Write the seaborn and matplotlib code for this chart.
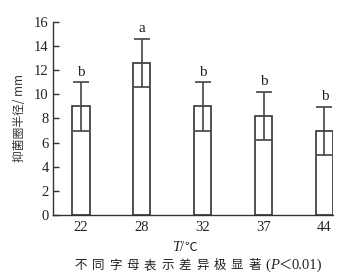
import matplotlib
matplotlib.use("Agg")
import matplotlib.pyplot as plt
import seaborn as sns
import pandas as pd
import numpy as np

temps = ["22", "28", "32", "37", "44"]
means = [9.0, 12.6, 9.0, 8.2, 6.95]
errs = [2.0, 2.0, 2.0, 2.0, 2.0]
letters = ["b", "a", "b", "b", "b"]
yticks = [0, 2, 4, 6, 8, 10, 12, 14, 16]
note_cn = "不同字母表示差异极显著"

sns.set_theme(style="white")
plt.rcParams['font.family'] = ['Liberation Serif', 'Noto Sans CJK SC']

df = pd.DataFrame({"T": temps, "r": means})

W, H = 358, 278
fig = plt.figure(figsize=(3.58, 2.78), dpi=100)
ax = fig.add_axes([0.148, 0.2266, 0.782, 0.6944])
sns.barplot(data=df, x="T", y="r", ax=ax, color="white", edgecolor="#333333",
            linewidth=1.2, width=0.28, errorbar=None)
ax.errorbar(np.arange(len(temps)), means, yerr=errs, fmt="none", ecolor="#444444",
            elinewidth=1.2, capsize=5.5, capthick=1.2)
for i, (m, e, l) in enumerate(zip(means, errs, letters)):
    ax.text(i, m + e + 0.3, l, ha="center", va="bottom", fontsize=11,
            family="Liberation Serif", color="#222222")

ax.set_ylim(0, 16)
ax.set_xlim(-0.46, 4.14)
ax.set_yticks(yticks)
ax.set_yticklabels([str(v) for v in yticks], fontsize=10.5, family="Liberation Serif")
ax.set_xticks(range(len(temps)))
ax.set_xticklabels(temps, fontsize=10.5, family="Liberation Serif")
for s in ["top", "right"]:
    ax.spines[s].set_visible(False)
for s in ["left", "bottom"]:
    ax.spines[s].set_color("#333333")
    ax.spines[s].set_linewidth(1.0)
ax.tick_params(axis="y", direction="in", length=4, width=1.0, color="#333333",
               left=True, pad=3, labelcolor="#222222")
ax.tick_params(axis="x", length=0, pad=4, labelcolor="#222222")
ax.set_xlabel("")
ax.set_ylabel("抑菌圈半径/ mm", fontsize=8.5, family=["Noto Sans CJK SC", "Liberation Serif"],
              color="#333333", labelpad=6)

renderer = fig.canvas.get_renderer()


def chain(x_px, y_px, pieces):
    """Draw text pieces one after another starting at x_px (pixels)."""
    x = x_px
    for txt, kw in pieces:
        t = fig.text(x / W, 1 - y_px / H, txt, ha="left", va="baseline",
                     color="#222222", **kw)
        bb = t.get_window_extent(renderer=renderer)
        x += bb.width


serif = dict(fontsize=10.5, family="Liberation Serif")
serif_it = dict(fontsize=10.5, family="Liberation Serif", style="italic")
cjk = dict(fontsize=9, family="Noto Sans CJK SC")

chain(172, 251, [("T", serif_it), ("/", serif), ("℃", cjk)])

x0, x1 = 72, 263
pitch = (x1 - x0) / len(note_cn)
for i, ch in enumerate(note_cn):
    fig.text((x0 + pitch * (i + 0.5)) / W, 1 - 269 / H, ch, ha="center", va="baseline",
             fontsize=9, family="Noto Sans CJK SC", color="#222222")
chain(265, 269, [("(", serif), ("P", serif_it), ("＜", dict(fontsize=9.5, family="Noto Sans CJK SC")),
                 ("0.01)", serif)])

fig.savefig("out.png", dpi=100)
